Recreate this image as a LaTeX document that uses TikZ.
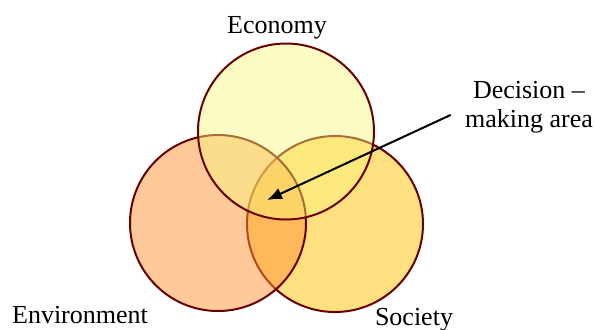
\documentclass[tikz,border=0pt]{standalone}
\usepackage{fontspec}
\setmainfont{Liberation Serif}
\usetikzlibrary{arrows.meta}
\definecolor{econfill}{RGB}{249,246,122}
\definecolor{envfill}{RGB}{255,147,53}
\definecolor{socfill}{RGB}{255,224,128}
\definecolor{rim}{RGB}{105,0,0}

\begin{document}
\begin{tikzpicture}[x=0.5pt,y=-0.5pt]
    \tikzstyle{every node}=[font=\fontsize{13}{14.5}\selectfont]
    \tikzstyle{bubble}=[circle,draw=rim,line width=1pt,minimum size=88pt,inner sep=0pt]
    \useasboundingbox (0,0) rectangle (595,329);

       % society at the bottom, environment over it, economy on top
       \node (soc) [bubble,fill=socfill] at (335,224) {};
       \node (env) [bubble,fill=envfill,fill opacity=0.5] at (218,223) {};
       \node (econ) [bubble,fill=econfill,fill opacity=0.45] at (286,131.5) {};

       \node (econlbl) [anchor=base] at (277,33) {Economy};
       \node (envlbl) [anchor=base] at (80,323) {Environment};
       \node (soclbl) [anchor=base] at (414,325) {Society};

       % base of this node is the baseline of its last line
       \node (dmlbl) [anchor=base,align=center,inner xsep=7pt] at (529,127) {Decision –\\making area};
       \coordinate (dmtip) at (267,200);
       \draw[line width=1pt,-{Latex[length=7.5pt,width=6pt]}] (dmlbl.186) -- (dmtip);

\end{tikzpicture}
\end{document}
